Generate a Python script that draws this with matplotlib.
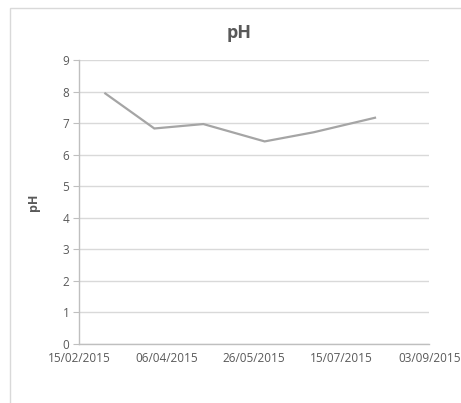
import datetime

import matplotlib
matplotlib.use("Agg")
import matplotlib.pyplot as plt
import matplotlib.dates as mdates
from matplotlib.patches import Rectangle

# sampling dates and measured pH
dates = ["2015-03-02", "2015-03-30", "2015-04-27", "2015-06-01", "2015-06-29", "2015-08-03"]
ph_values = [7.94, 6.83, 6.97, 6.42, 6.71, 7.17]
x_ticks = ["2015-02-15", "2015-04-06", "2015-05-26", "2015-07-15", "2015-09-03"]
y_ticks = [0, 1, 2, 3, 4, 5, 6, 7, 8, 9]

plt.rcParams["font.family"] = ["Open Sans", "DejaVu Sans"]

to_dt = lambda s: datetime.datetime.strptime(s, "%Y-%m-%d")
x = [to_dt(d) for d in dates]
xt = [to_dt(d) for d in x_ticks]

fig = plt.figure(figsize=(4.61, 4.03), dpi=100)
fig.patch.set_facecolor("white")

# chart area border
fig.patches.append(Rectangle((10 / 461, -0.1), 1.2, 1 - 8 / 403 + 0.1,
                             transform=fig.transFigure, fill=False,
                             edgecolor="#d9d9d9", linewidth=1.0))

ax = fig.add_axes([79 / 461, 59 / 403, 350.3 / 461, 284 / 403])
ax.plot(x, ph_values, color="#a5a5a5", linewidth=1.6, solid_joinstyle="miter")

ax.set_xlim(xt[0], xt[-1])
ax.set_ylim(0, 9)
ax.set_xticks(xt)
ax.xaxis.set_major_formatter(mdates.DateFormatter("%d/%m/%Y"))
ax.set_yticks(y_ticks)

ax.grid(axis="y", color="#d9d9d9", linewidth=1.0)
ax.set_axisbelow(True)
for side in ("top", "right"):
    ax.spines[side].set_visible(False)
for side in ("left", "bottom"):
    ax.spines[side].set_color("#bfbfbf")
    ax.spines[side].set_linewidth(1.0)

ax.tick_params(axis="y", length=4, color="#bfbfbf", labelcolor="#595959",
               labelsize=8.5, pad=3)
ax.tick_params(axis="x", length=0, labelcolor="#595959", labelsize=8.5, pad=6)

ax.set_ylabel("pH", fontsize=9, fontweight="bold", color="#595959", labelpad=16)
fig.text(239 / 461, 1 - 33 / 403, "pH", ha="center", va="center",
         fontsize=13, fontweight="bold", color="#595959")

fig.savefig("out.png", dpi=100)
